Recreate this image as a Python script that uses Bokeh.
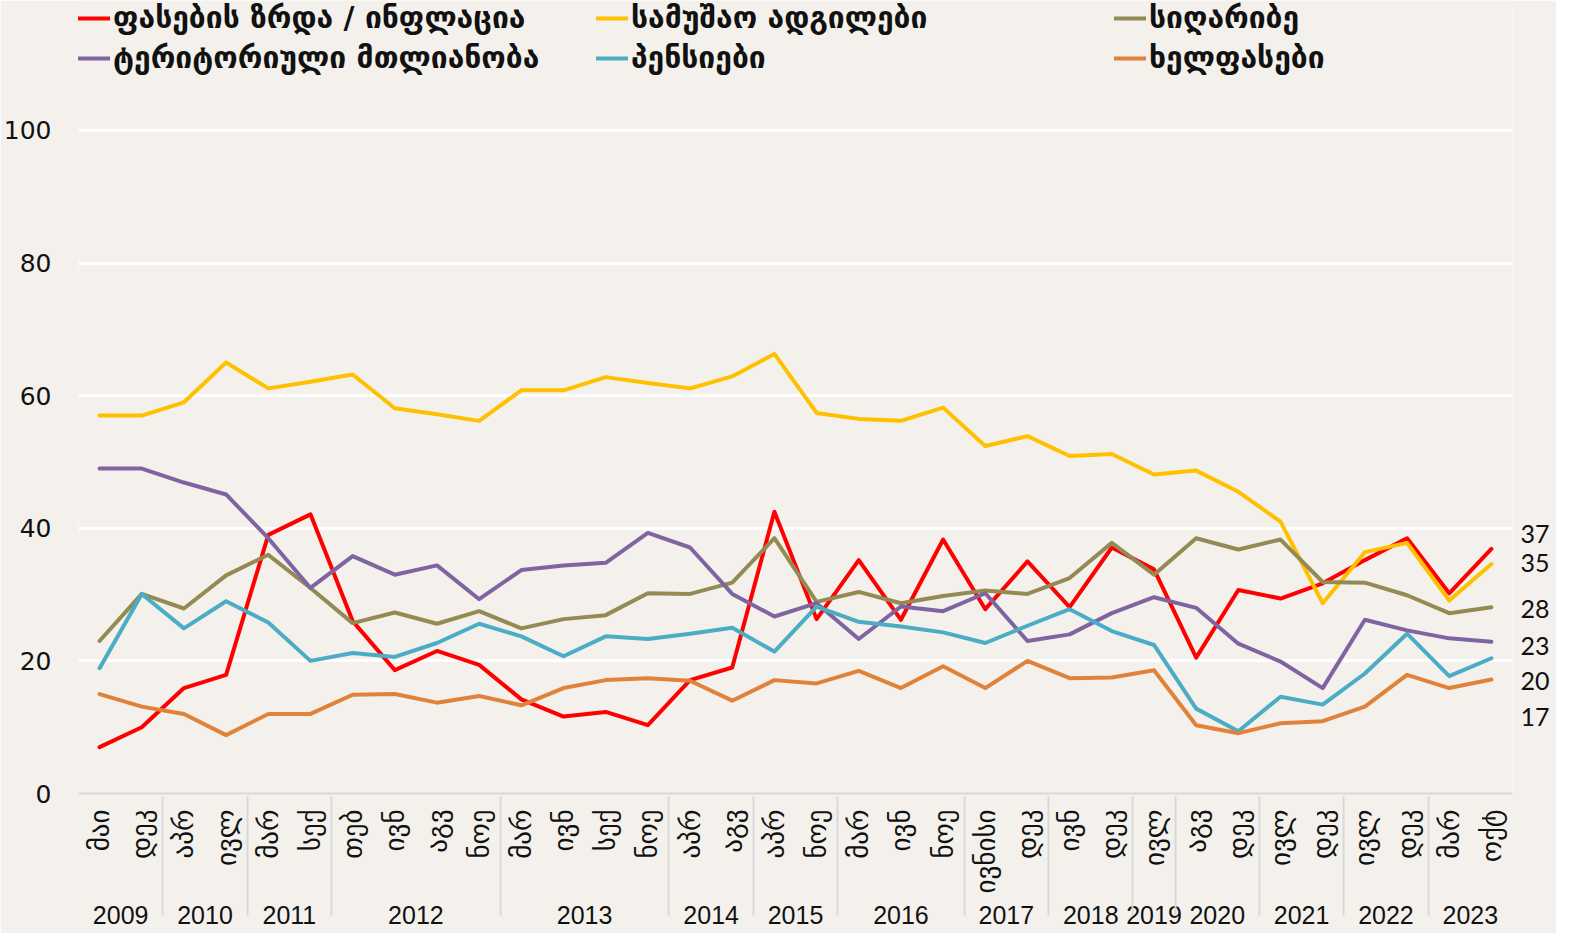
import math
from bokeh.plotting import figure
from bokeh.models import (FactorRange, Range1d, Legend, LegendItem,
                          FixedTicker, LinearAxis)
from bokeh.embed import file_html
from bokeh.resources import INLINE

# ---- data ----
years = ["2009", "2009", "2010", "2010", "2011", "2011",
         "2012", "2012", "2012", "2012", "2013", "2013", "2013", "2013",
         "2014", "2014", "2015", "2015", "2016", "2016", "2016",
         "2017", "2017", "2018", "2018", "2019", "2020", "2020",
         "2021", "2021", "2022", "2022", "2023", "2023"]
months = ["მაი", "დეკ", "აპრ", "ივლ", "მარ", "სექ",
          "თებ", "ივნ", "აგვ", "ნოე", "მარ", "ივნ", "სექ", "ნოე",
          "აპრ", "აგვ", "აპრ", "ნოე", "მარ", "ივნ", "ნოე",
          "ივნისი", "დეკ", "ივნ", "დეკ", "ივლ", "აგვ", "დეკ",
          "ივლ", "დეკ", "ივლ", "დეკ", "მარ", "ოქტ"]

inflation = [7.0, 10.0, 15.9, 17.9, 39.0, 42.1, 26.0, 18.6, 21.5, 19.4,
             14.2, 11.6, 12.3, 10.3, 17.1, 19.0, 42.5, 26.3, 35.2, 26.2,
             38.3, 27.8, 35.0, 28.1, 37.1, 33.8, 20.5, 30.7, 29.4, 31.7,
             35.2, 38.5, 30.2, 36.9]
jobs = [57.0, 57.0, 59.0, 65.0, 61.1, 62.1, 63.2, 58.1, 57.2, 56.2,
        60.8, 60.8, 62.8, 61.9, 61.1, 62.9, 66.3, 57.4, 56.5, 56.2,
        58.2, 52.4, 53.9, 50.9, 51.2, 48.1, 48.7, 45.5, 41.0, 28.7,
        36.4, 37.8, 29.1, 34.6]
poverty = [23.0, 30.1, 27.9, 32.9, 36.0, 31.0, 25.7, 27.3, 25.6, 27.5,
           24.9, 26.3, 26.9, 30.2, 30.1, 31.8, 38.5, 28.9, 30.4, 28.7,
           29.8, 30.6, 30.1, 32.5, 37.8, 33.0, 38.5, 36.8, 38.3, 31.9,
           31.8, 29.9, 27.2, 28.1]
territory = [49.0, 49.0, 46.9, 45.1, 38.5, 31.0, 35.8, 33.0, 34.4, 29.3,
             33.7, 34.4, 34.8, 39.3, 37.1, 30.1, 26.7, 28.7, 23.3, 28.2,
             27.5, 30.2, 23.0, 24.0, 27.2, 29.6, 28.0, 22.6, 19.9, 15.9,
             26.2, 24.6, 23.4, 22.9]
pensions = [18.9, 30.1, 24.9, 29.0, 25.8, 20.0, 21.2, 20.6, 22.7, 25.6,
            23.7, 20.7, 23.7, 23.3, 24.1, 25.0, 21.4, 28.2, 25.9, 25.2,
            24.3, 22.7, 25.3, 27.8, 24.5, 22.4, 12.8, 9.4, 14.6, 13.4,
            18.1, 24.1, 17.7, 20.4]
wages = [15.0, 13.1, 12.0, 8.8, 12.0, 12.0, 14.9, 15.0, 13.7, 14.7,
         13.3, 15.9, 17.1, 17.4, 17.0, 14.0, 17.1, 16.6, 18.5, 15.9,
         19.2, 15.9, 20.0, 17.4, 17.5, 18.6, 10.3, 9.1, 10.6, 10.9,
         13.1, 17.9, 15.9, 17.2]

names = ["ფასების ზრდა / ინფლაცია", "სამუშაო ადგილები", "სიღარიბე",
         "ტერიტორიული მთლიანობა", "პენსიები", "ხელფასები"]
series = [inflation, jobs, poverty, territory, pensions, wages]
colors = ["#FF0000", "#FFC000", "#948A54", "#8064A2", "#4BACC6", "#E0823A"]
y_ticks = [0, 20, 40, 60, 80, 100]

# ---- styling: vertical nudges (data units) so end labels don't collide ----
end_label_nudge = [2.3, 0.1, -0.2, -0.7, -3.4, -5.6]

BG = "#F4F1EC"
factors = list(zip(years, months))

# y range extends above 100 to leave room for the legend inside the frame
p = figure(x_range=FactorRange(*factors, factor_padding=0, group_padding=0,
                               subgroup_padding=0, range_padding=0),
           y_range=Range1d(0, 119.6), width=1556, height=933,
           output_backend="svg", toolbar_location=None,
           background_fill_color=BG, border_fill_color=BG,
           min_border_left=0, min_border_right=44, min_border_top=0,
           min_border_bottom=140, outline_line_color=None)

renderers = []
for vals, col in zip(series, colors):
    r = p.line(x=factors, y=vals, line_color=col, line_width=4,
               line_join="round", line_cap="round")
    renderers.append(r)

# grid
p.xgrid.grid_line_color = None
p.ygrid.ticker = FixedTicker(ticks=y_ticks)
p.ygrid.grid_line_color = "white"
p.ygrid.grid_line_width = 3

# y axis
p.yaxis.ticker = FixedTicker(ticks=y_ticks)
p.yaxis.axis_line_color = None
p.yaxis.major_tick_line_color = None
p.yaxis.minor_tick_line_color = None
p.yaxis.major_label_standoff = 21
p.yaxis.major_label_text_font = "DejaVu Sans"
p.yaxis.major_label_text_font_size = "25px"
p.yaxis.major_label_text_color = "#111111"

# x axis
xa = p.xaxis[0]
xa.axis_line_color = "#D9D9D9"
xa.axis_line_width = 2
xa.major_tick_line_color = None
xa.minor_tick_line_color = None
xa.major_label_orientation = math.pi / 2
xa.major_label_text_font = "DejaVu Sans"
xa.major_label_text_font_size = "27px"
xa.major_label_text_color = "#111111"
xa.major_label_standoff = 10
xa.group_text_font = "Liberation Sans"
xa.group_text_font_size = "25px"
xa.group_text_font_style = "normal"
xa.group_text_color = "#111111"
xa.separator_line_color = "#D9D9D9"
xa.separator_line_width = 2

# end-of-line value labels via a right axis
last_vals = [s[-1] for s in series]
tick_pos = [round(v + n, 1) for v, n in zip(last_vals, end_label_nudge)]
ra = LinearAxis(ticker=FixedTicker(ticks=tick_pos),
                major_label_overrides={t: str(int(round(v)))
                                       for t, v in zip(tick_pos, last_vals)},
                axis_line_color=None, major_tick_line_color=None,
                minor_tick_line_color=None, major_label_standoff=2,
                major_label_text_font="Lato",
                major_label_text_font_size="25px",
                major_label_text_color="#111111")
p.add_layout(ra, "right")

# legend (inside the frame, above the 100 grid line)
items = [LegendItem(label=n, renderers=[r]) for n, r in zip(names, renderers)]
legend = Legend(items=items, orientation="horizontal", ncols=3,
                location="top_left", glyph_width=32, glyph_height=26,
                label_height=26, label_width=478, label_standoff=3,
                spacing=5, padding=0, margin=0,
                border_line_color=None, background_fill_alpha=0,
                label_text_font="DejaVu Sans", label_text_font_style="bold",
                label_text_font_size="30px", label_text_color="#111111")
p.add_layout(legend, "center")

open("out.html", "w").write(file_html(p, INLINE))
